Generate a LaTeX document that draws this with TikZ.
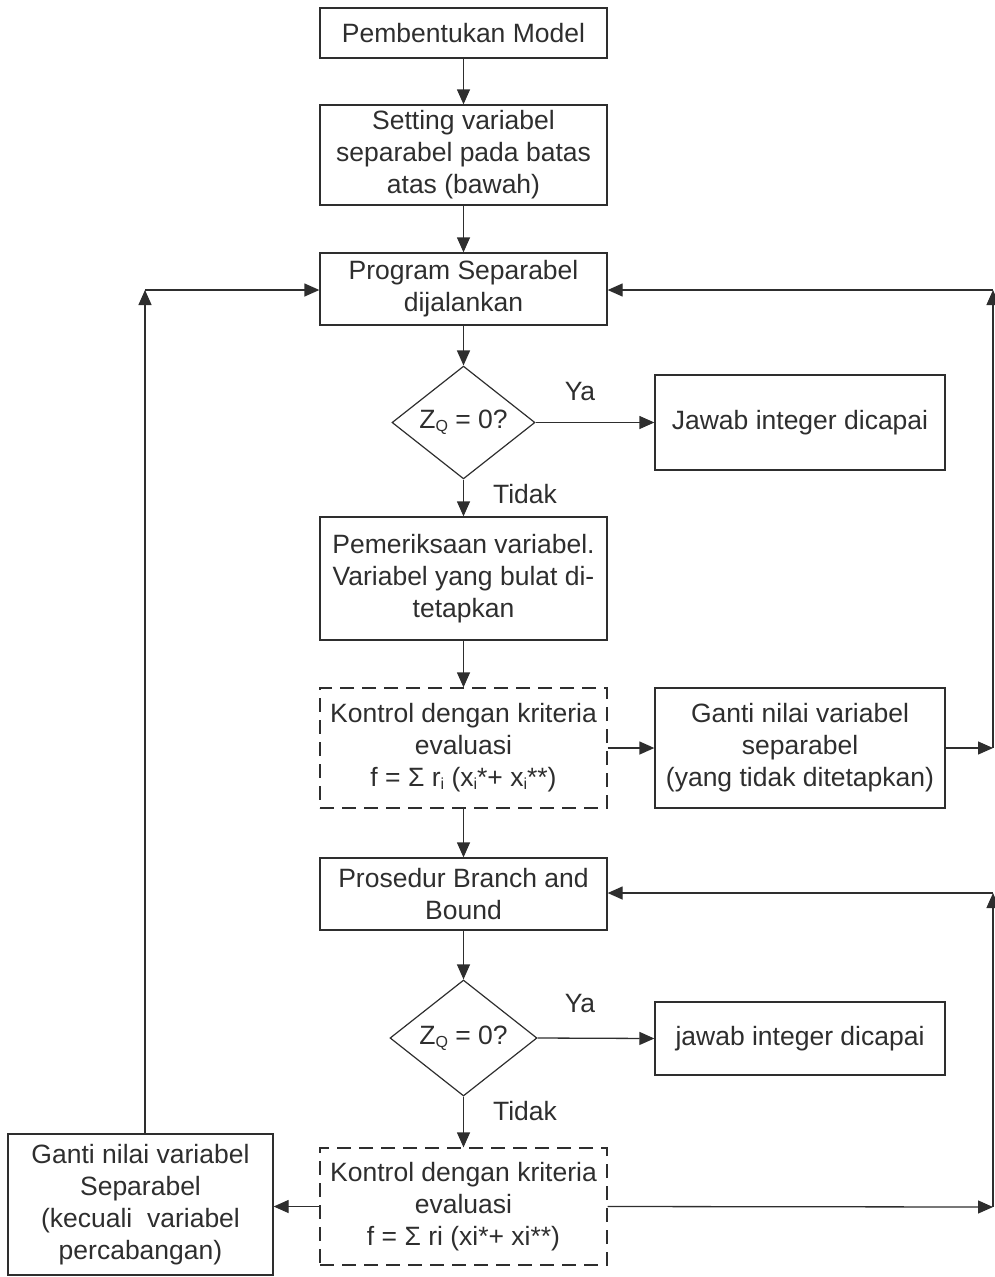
\documentclass[tikz,border=0pt]{standalone}
\usepackage{fontspec}
\setmainfont{Liberation Sans}
\usetikzlibrary{shapes.geometric,arrows.meta}
\definecolor{ink}{HTML}{2E2E2E}
\newcommand{\sbi}[1]{\raisebox{-3pt}{\fontsize{16}{16}\selectfont #1}}
\begin{document}
\begin{tikzpicture}[x=1pt,y=1pt,
  every node/.style={font=\fontsize{26.5}{32}\selectfont, text=ink, align=center},
  box/.style={draw=ink, line width=1.3pt, rectangle, inner sep=0pt},
  dbox/.style={box, dash pattern=on 14pt off 8pt},
  dia/.style={draw=ink, line width=1.2pt, diamond, inner sep=0pt},
  lab/.style={inner sep=0pt},
  conn/.style={draw=ink, line width=1.3pt, -{Triangle[length=15pt,width=13pt]}}
]
\useasboundingbox (0,0) rectangle (995,-1277);

\node[box, minimum width=287pt, minimum height=50pt] (n1) at (463.5,-33) {Pembentukan Model};
\node[box, minimum width=287pt, minimum height=100pt] (n2) at (463.5,-155) {Setting variabel\\separabel pada batas\\atas (bawah)};
\node[box, minimum width=287pt, minimum height=72pt] (n3) at (463.5,-289) {Program Separabel\\dijalankan};
\node[dia, minimum width=143pt, minimum height=95pt] (d1) at (463.5,-422.5) {Z\sbi{Q} = 0?};
\node[box, minimum width=290pt, minimum height=95pt] (y1) at (800,-422.5) {Jawab integer dicapai};
\node[box, minimum width=287pt, minimum height=123pt] (n4) at (463.5,-578.5) {Pemeriksaan variabel.\\Variabel yang bulat di-\\tetapkan};
\node[dbox, minimum width=287pt, minimum height=120pt] (k1) at (463.5,-748) {Kontrol dengan kriteria\\evaluasi\\f = Σ r\sbi{i} (x\sbi{i}*+ x\sbi{i}**)};
\node[box, minimum width=290pt, minimum height=120pt] (g1) at (800,-748) {Ganti nilai variabel\\separabel\\(yang tidak ditetapkan)};
\node[box, minimum width=287pt, minimum height=72pt] (n5) at (463.5,-894) {Prosedur Branch and\\Bound};
\node[dia, minimum width=147pt, minimum height=116pt] (d2) at (463.5,-1038) {Z\sbi{Q} = 0?};
\node[box, minimum width=290pt, minimum height=73pt] (y2) at (800,-1038.5) {jawab integer dicapai};
\node[dbox, minimum width=287pt, minimum height=117pt] (k2) at (463.5,-1206.5) {Kontrol dengan kriteria\\evaluasi\\f = Σ ri (xi*+ xi**)};
\node[box, minimum width=265pt, minimum height=141pt] (g2) at (140.5,-1204.5) {Ganti nilai variabel\\Separabel\\(kecuali\ \ variabel\\percabangan)};

\node[lab] (ya1) at (580,-392) {Ya};
\node[lab] (td1) at (525,-494) {Tidak};
\node[lab] (ya2) at (580,-1003) {Ya};
\node[lab] (td2) at (525,-1111) {Tidak};

\coordinate (r1) at (993,-748);
\coordinate (r1t) at (993,-290);
\coordinate (r2) at (993,-1207);
\coordinate (r2t) at (993,-893);
\coordinate (l1t) at (145,-290);
\coordinate (l1b) at (145,-1134);

\draw[conn] (n1) -- (n2);
\draw[conn] (n2) -- (n3);
\draw[conn] (n3) -- (d1);
\draw[conn] (d1.east) -- (y1.west);
\draw[conn] (d1.south) -- (n4.north);
\draw[conn] (n4) -- (k1);
\draw[conn] (k1.east) -- (g1.west);
\draw[conn] (g1.east) -- (r1);
\draw[conn] (r1) -- (r1t);
\draw[conn] (r1t) -- (n3.east |- r1t);
\draw[conn] (k1) -- (n5);
\draw[conn] (n5) -- (d2);
\draw[conn] (d2.east) -- (y2.west);
\draw[conn] (d2.south) -- (k2.north);
\draw[conn] (k2.west) -- (g2.east |- k2.west);
\draw[conn] (k2.east) -- (r2);
\draw[conn] (r2) -- (r2t);
\draw[conn] (r2t) -- (n5.east |- r2t);
\draw[conn] (l1b) -- (l1t);
\draw[conn] (l1t) -- (n3.west |- l1t);
\end{tikzpicture}
\end{document}
